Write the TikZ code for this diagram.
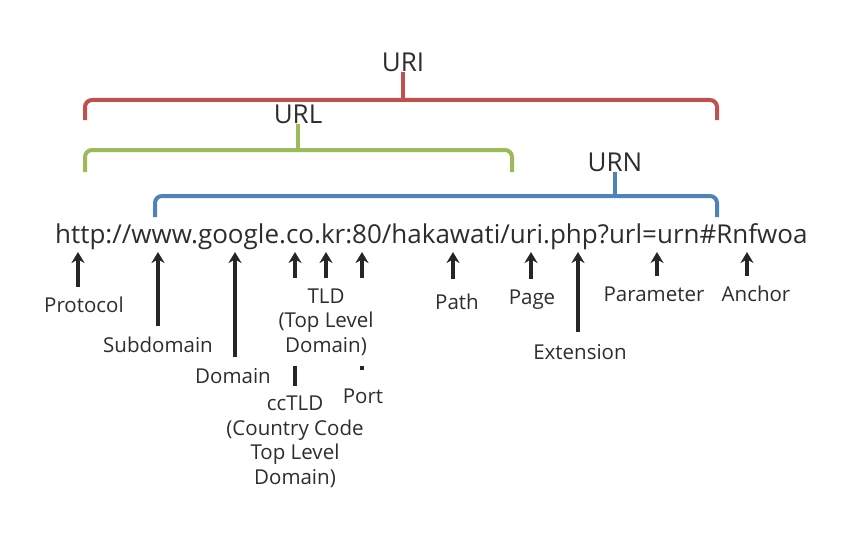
\documentclass[tikz,border=0pt]{standalone}
\usepackage{fontspec}
\setmainfont{Open Sans}
\usetikzlibrary{arrows.meta}
\definecolor{uriRed}{RGB}{192,80,77}
\definecolor{urlGreen}{RGB}{155,187,89}
\definecolor{urnBlue}{RGB}{79,129,189}
\definecolor{txt}{RGB}{45,45,45}
\begin{document}
\begin{tikzpicture}[x=1pt,y=-1pt,
  brk/.style={line width=4pt,rounded corners=7pt},
  lab/.style={text=txt,font=\fontsize{20.5}{24.5}\selectfont,align=center,inner sep=1pt},
  big/.style={text=txt,font=\fontsize{26}{30}\selectfont,inner sep=0pt},
  arr/.style={line width=3.2pt,draw=black!85,-{Stealth[length=11pt,width=13pt]}}]
\useasboundingbox (0,0) rectangle (850,532);
% top labels
\node[big] (uri) at (403,62) {URI};
\node[big] (url) at (298,114) {URL};
\node[big] (urn) at (615,162) {URN};
% brackets
\draw[brk,uriRed] (85,120) -- (85,100) -- (717,100) -- (717,120);
\draw[uriRed,line width=4pt] (403,101) -- (uri.south);
\draw[brk,urlGreen] (85,172) -- (85,150) -- (512,150) -- (512,172);
\draw[urlGreen,line width=4pt] (298,151) -- (url.south);
\draw[brk,urnBlue] (155,217) -- (155,196) -- (717,196) -- (717,217);
\draw[urnBlue,line width=4pt] (615,197) -- (urn.south);
% URL string
\node[big,anchor=base west] (str) at (55,243) {http://www.google.co.kr:80/hakawati/uri.php?url=urn\#Rnfwoa};
% tip coordinates
\foreach \n/\x in {pr/78,sd/158,dm/235,cc/295,tl/326,pt/362,pa/453,pg/531,ex/578,pm/657,an/747}
  \coordinate (t\n) at (\x,252);
% labels and arrows
\node[lab] (protocol) at (84,305) {Protocol};
\draw[arr] (78,287) -- (tpr);
\node[lab] (subdomain) at (158,345) {Subdomain};
\draw[arr] (158,326) -- (tsd);
\node[lab] (domain) at (233,376) {Domain};
\draw[arr] (235,357) -- (tdm);
\node[lab] (cctld) at (295,442) {ccTLD\\(Country Code\\Top Level\\Domain)};
\draw[arr] (295,386) -- (tcc);
\node[lab] (port) at (363,396) {Port};
\draw[arr] (362,370) -- (tpt);
\node[lab,fill=white,minimum width=118pt,minimum height=88pt,inner sep=3pt] (tld) at (326,322) {TLD\\(Top Level\\Domain)};
\draw[arr] (tld.north -| ttl) -- (ttl);
\node[lab] (path) at (457,302) {Path};
\draw[arr] (453,279) -- (tpa);
\node[lab] (page) at (532,300) {Page};
\draw[arr] (531,279) -- (tpg);
\node[lab] (ext) at (580,352) {Extension};
\draw[arr] (578,332) -- (tex);
\node[lab] (param) at (654,294) {Parameter};
\draw[arr] (657,276) -- (tpm);
\node[lab] (anchor) at (756,294) {Anchor};
\draw[arr] (747,276) -- (tan);
\end{tikzpicture}
\end{document}
